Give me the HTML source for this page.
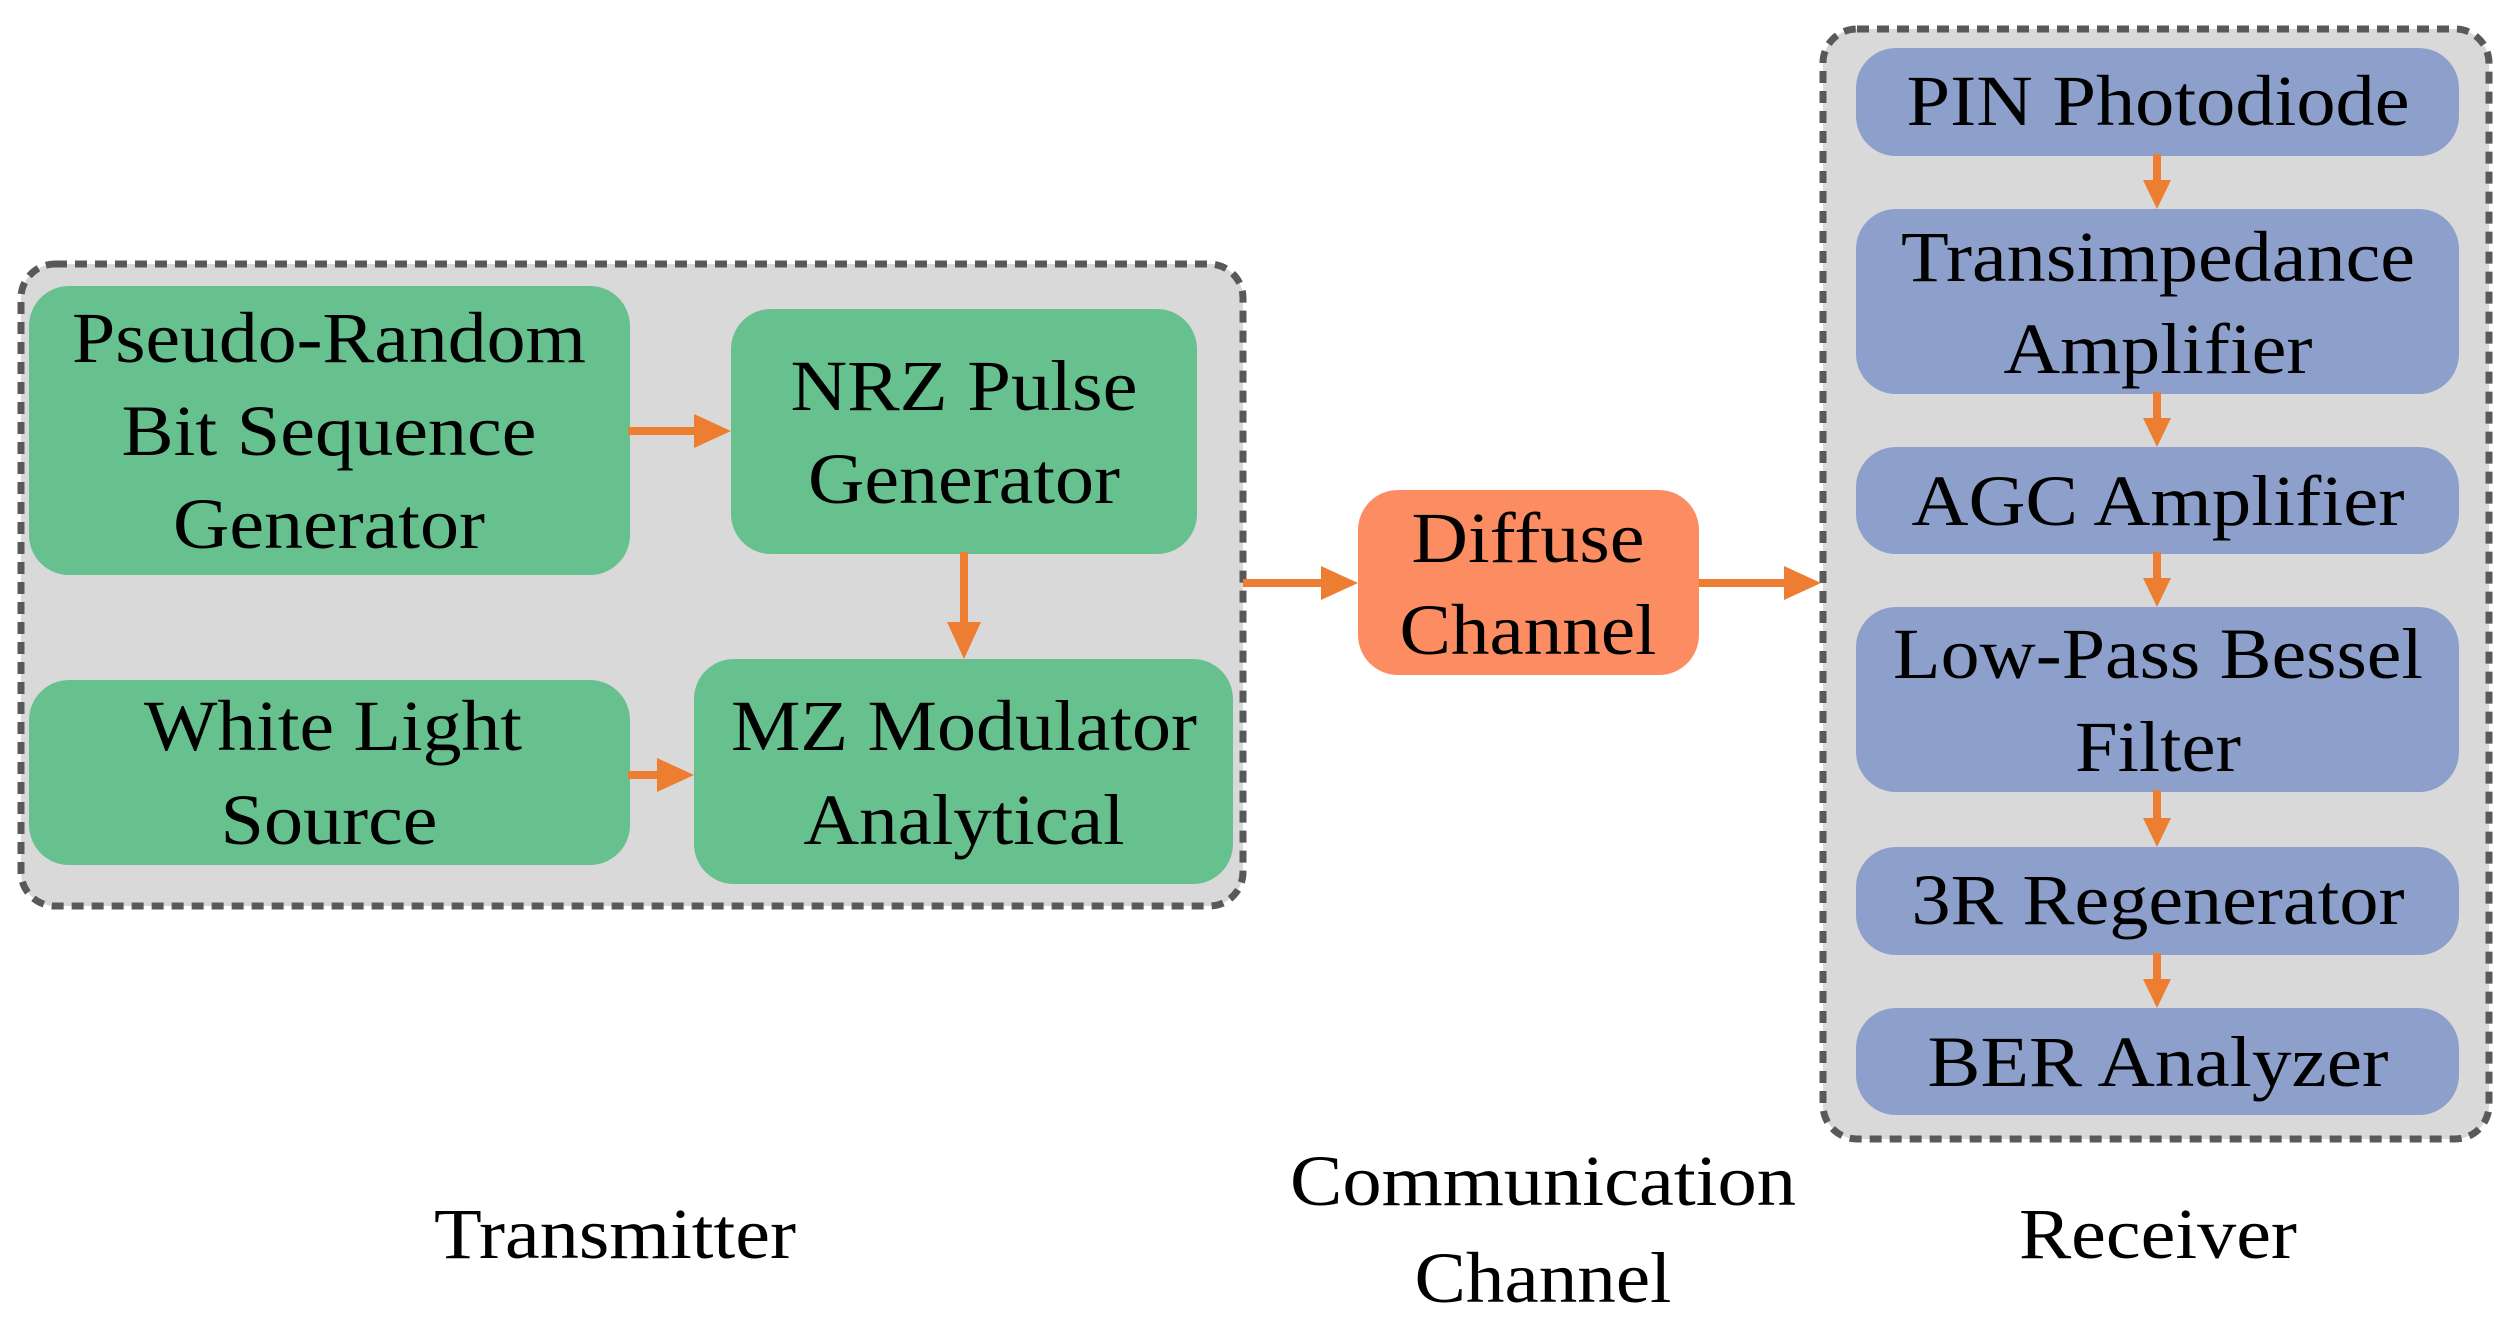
<!DOCTYPE html>
<html><head><meta charset="utf-8"><style>html,body{margin:0;padding:0;background:#fff}svg{display:block}</style></head>
<body>
<svg width="2514" height="1326" viewBox="0 0 2514 1326" xmlns="http://www.w3.org/2000/svg" font-family="'Liberation Serif', serif" font-size="72" fill="#000">
<!-- containers -->
<rect x="21" y="264" width="1222" height="642" rx="34" fill="#D9D9D9" stroke="#595959" stroke-width="7" stroke-dasharray="12,8"/>
<rect x="1823" y="29" width="666" height="1110" rx="34" fill="#D9D9D9" stroke="#595959" stroke-width="7" stroke-dasharray="12,8"/>
<!-- transmitter boxes -->
<g fill="#66C18F">
<rect x="29" y="286" width="601" height="289" rx="40"/>
<rect x="731" y="309" width="466" height="245" rx="40"/>
<rect x="29" y="680" width="601" height="185" rx="40"/>
<rect x="694" y="659" width="539" height="225" rx="40"/>
</g>
<rect x="1358" y="490" width="341" height="185" rx="40" fill="#FC8D62"/>
<g fill="#8DA0CB">
<rect x="1856" y="48" width="603" height="108" rx="40"/>
<rect x="1856" y="209" width="603" height="185" rx="40"/>
<rect x="1856" y="447" width="603" height="107" rx="40"/>
<rect x="1856" y="607" width="603" height="185" rx="40"/>
<rect x="1856" y="847" width="603" height="108" rx="40"/>
<rect x="1856" y="1008" width="603" height="107" rx="40"/>
</g>
<!-- arrows -->
<g stroke="#ED7D31" stroke-width="8" fill="none">
<line x1="628" y1="431" x2="700" y2="431"/>
<line x1="964" y1="552" x2="964" y2="630"/>
<line x1="628" y1="775" x2="664" y2="775"/>
<line x1="1243" y1="583" x2="1325" y2="583"/>
<line x1="1699" y1="583" x2="1790" y2="583"/>
<line x1="2157" y1="154" x2="2157" y2="190"/>
<line x1="2157" y1="392" x2="2157" y2="428"/>
<line x1="2157" y1="552" x2="2157" y2="588"/>
<line x1="2157" y1="790" x2="2157" y2="828"/>
<line x1="2157" y1="953" x2="2157" y2="989"/>
</g>
<g fill="#ED7D31">
<polygon points="694,414 731,431 694,448"/>
<polygon points="947,622 964,659 981,622"/>
<polygon points="657,758 694,775 657,792"/>
<polygon points="1321,566 1358,583 1321,600"/>
<polygon points="1784,566 1821,583 1784,600"/>
<polygon points="2143,180 2157,209 2171,180"/>
<polygon points="2143,418 2157,447 2171,418"/>
<polygon points="2143,578 2157,607 2171,578"/>
<polygon points="2143,818 2157,847 2171,818"/>
<polygon points="2143,979 2157,1008 2171,979"/>
</g>
<!-- text -->
<g text-anchor="middle">
<text x="329" y="362" textLength="514" lengthAdjust="spacingAndGlyphs">Pseudo-Random</text>
<text x="329" y="455" textLength="415" lengthAdjust="spacingAndGlyphs">Bit Sequence</text>
<text x="329" y="548" textLength="312" lengthAdjust="spacingAndGlyphs">Generator</text>
<text x="964" y="410" textLength="347" lengthAdjust="spacingAndGlyphs">NRZ Pulse</text>
<text x="964" y="503" textLength="312" lengthAdjust="spacingAndGlyphs">Generator</text>
<text x="333" y="750" textLength="378" lengthAdjust="spacingAndGlyphs">White Light</text>
<text x="329" y="844" textLength="217" lengthAdjust="spacingAndGlyphs">Source</text>
<text x="964" y="750" textLength="466" lengthAdjust="spacingAndGlyphs">MZ Modulator</text>
<text x="964" y="844" textLength="321" lengthAdjust="spacingAndGlyphs">Analytical</text>
<text x="1528" y="562" textLength="233" lengthAdjust="spacingAndGlyphs">Diffuse</text>
<text x="1528" y="654" textLength="257" lengthAdjust="spacingAndGlyphs">Channel</text>
<text x="2158" y="125" textLength="503" lengthAdjust="spacingAndGlyphs">PIN Photodiode</text>
<text x="2158" y="281" textLength="514" lengthAdjust="spacingAndGlyphs">Transimpedance</text>
<text x="2158" y="373" textLength="309" lengthAdjust="spacingAndGlyphs">Amplifier</text>
<text x="2158" y="525" textLength="493" lengthAdjust="spacingAndGlyphs">AGC Amplifier</text>
<text x="2158" y="678" textLength="530" lengthAdjust="spacingAndGlyphs">Low-Pass Bessel</text>
<text x="2158" y="771" textLength="166" lengthAdjust="spacingAndGlyphs">Filter</text>
<text x="2158" y="924" textLength="493" lengthAdjust="spacingAndGlyphs">3R Regenerator</text>
<text x="2158" y="1086" textLength="461" lengthAdjust="spacingAndGlyphs">BER Analyzer</text>
<text x="615" y="1258" textLength="362" lengthAdjust="spacingAndGlyphs">Transmitter</text>
<text x="1543" y="1205" textLength="506" lengthAdjust="spacingAndGlyphs">Communication</text>
<text x="1543" y="1302" textLength="257" lengthAdjust="spacingAndGlyphs">Channel</text>
<text x="2158" y="1258" textLength="278" lengthAdjust="spacingAndGlyphs">Receiver</text>
</g>
</svg>
</body></html>
